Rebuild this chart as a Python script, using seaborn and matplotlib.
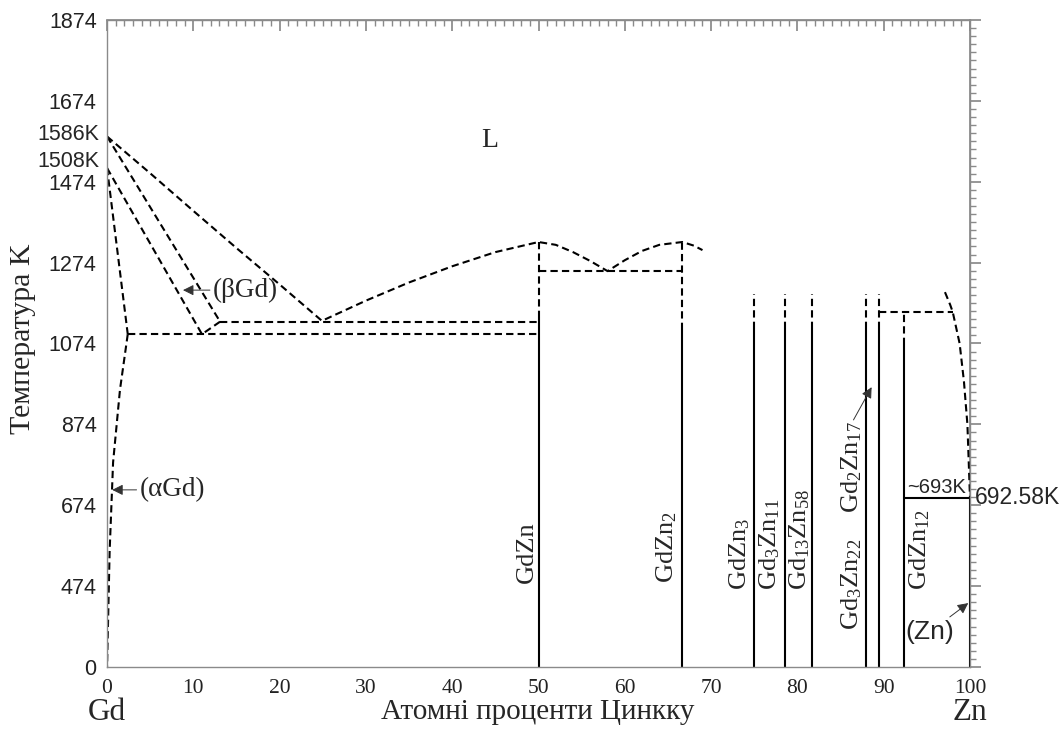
import numpy as np
import pandas as pd
import matplotlib.pyplot as plt
import seaborn as sns
from matplotlib.ticker import MultipleLocator, FixedLocator

# Theme first, fonts after (set_theme resets font.family)
sns.set_theme(style="white")
plt.rcParams['font.family'] = ['Liberation Serif', 'DejaVu Serif']
plt.rcParams['mathtext.fontset'] = 'custom'
plt.rcParams['mathtext.rm'] = 'Liberation Serif'
plt.rcParams['mathtext.it'] = 'Liberation Serif:italic'
SANS = ['Liberation Sans', 'DejaVu Sans']
GRAY = '#8a8a8a'

# ---- data (at.% Zn, temperature K) ----
liquidus_x = [0, 5, 10, 15, 20, 24.9, 30, 35, 40, 45, 50, 52, 54, 56, 58,
              60, 62, 64, 66.67, 68, 69]
liquidus_t = [1586, 1495, 1402, 1310, 1220, 1130, 1180, 1225, 1265, 1300, 1325,
              1318, 1300, 1278, 1253, 1280, 1303, 1318, 1325, 1316, 1305]

zn_liq_x = [97.1, 97.7, 98.0, 98.8, 99.3, 99.7, 100]
zn_liq_t = [1201, 1170, 1152, 1074, 980, 874, 692.58]

beta_sol_x = [0, 13.1]
beta_sol_t = [1586, 1128]
beta_solv_x = [0, 11.0, 13.1]
beta_solv_t = [1508, 1097, 1128]
gd_trans_x = [0, 2.4]
gd_trans_t = [1508, 1097]
alpha_x = [2.4, 1.5, 0.7, 0.3, 0]
alpha_t = [1097, 960, 780, 560, 274]

# horizontal invariant lines
iso_t = [1128, 1097, 1253, 1152, 692.58]
iso_x0 = [13.1, 2.4, 50, 89.47, 92.31]
iso_x1 = [50, 50, 66.67, 98.0, 100]
iso_dashed = [True, True, True, True, False]

# intermetallic compounds
comp_x = [50, 66.67, 75, 78.57, 81.69, 88, 89.47, 92.31]
comp_solid_top = [1138, 1107, 1110, 1110, 1110, 1110, 1110, 1070]
comp_dash_top = [1325, 1325, 1197, 1197, 1197, 1197, 1197, 1152]
comp_labels = ['GdZn', 'GdZn$_2$', 'GdZn$_3$', 'Gd$_3$Zn$_{11}$', 'Gd$_{13}$Zn$_{58}$',
               'Gd$_3$Zn$_{22}$', 'Gd$_2$Zn$_{17}$', 'GdZn$_{12}$']
label_x = [48.7, 64.9, 73.3, 76.8, 80.3, 86.3, 86.3, 94.2]
label_t = [482, 482, 464, 464, 464, 365, 655, 464]

zn_solid_top = 692.58
t_min, t_max = 274, 1874
y_ticks = [274, 474, 674, 874, 1074, 1274, 1474, 1674, 1874]
y_tick_labels = ['0', '474', '674', '874', '1074', '1274', '1474', '1674', '1874']

# ---- build line tables ----
dash_rows, solid_rows = [], []


def add(rows, name, xs, ts):
    for x, t in zip(xs, ts):
        rows.append({'seg': name, 'x': x, 'T': t})


add(dash_rows, 'liquidus', liquidus_x, liquidus_t)
add(dash_rows, 'zn_liq', zn_liq_x, zn_liq_t)
add(dash_rows, 'beta_sol', beta_sol_x, beta_sol_t)
add(dash_rows, 'beta_solv', beta_solv_x, beta_solv_t)
add(dash_rows, 'gd_trans', gd_trans_x, gd_trans_t)
add(dash_rows, 'alpha', alpha_x, alpha_t)
for i, (t, a, b, d) in enumerate(zip(iso_t, iso_x0, iso_x1, iso_dashed)):
    add(dash_rows if d else solid_rows, f'iso{i}', [a, b], [t, t])
for i, (x, s, d) in enumerate(zip(comp_x, comp_solid_top, comp_dash_top)):
    add(solid_rows, f'c{i}s', [x, x], [t_min, s])
    add(dash_rows, f'c{i}d', [x, x], [s, d])
add(solid_rows, 'zn', [100, 100], [t_min, zn_solid_top])

dash_df = pd.DataFrame(dash_rows)
solid_df = pd.DataFrame(solid_rows)

fig = plt.figure(figsize=(10.63, 7.31), dpi=100)
ax = fig.add_axes([0.1007, 0.0876, 0.8118, 0.885])

sns.lineplot(data=dash_df, x='x', y='T', units='seg', estimator=None, sort=False,
             color='black', lw=1.5, linestyle=(0, (3.5, 2)), ax=ax)
sns.lineplot(data=solid_df, x='x', y='T', units='seg', estimator=None, sort=False,
             color='black', lw=1.5, ax=ax)

# ---- axes ----
ax.set_xlim(0, 100)
ax.set_ylim(t_min, t_max)
ax.set_xlabel('')
ax.set_ylabel('')
ax.set_xticks(np.arange(0, 101, 10))
ax.set_xticklabels([str(v) for v in range(0, 101, 10)], fontsize=15.5)
ax.xaxis.set_minor_locator(MultipleLocator(1))
ax.set_yticks(y_ticks)
ax.set_yticklabels(y_tick_labels, fontfamily=SANS, fontsize=15.5)
ax.yaxis.set_minor_locator(FixedLocator(np.arange(274, 1875, 20)))
ax.tick_params(which='both', direction='inout', color=GRAY, width=1, labelcolor='#222')
ax.tick_params(which='major', length=9)
ax.tick_params(which='minor', length=5)
ax.tick_params(axis='y', pad=3)
ax.tick_params(axis='x', pad=4)
for sp in ax.spines.values():
    sp.set_color(GRAY)
    sp.set_linewidth(1)

top = ax.secondary_xaxis('top')
top.set_xticks(np.arange(0, 101, 10))
top.set_xticklabels([])
top.xaxis.set_minor_locator(MultipleLocator(1))
top.tick_params(which='both', direction='in', color=GRAY)
top.tick_params(which='major', length=8)
top.tick_params(which='minor', length=4)
top.spines['top'].set_color(GRAY)

right = ax.secondary_yaxis('right')
right.set_yticks(y_ticks)
right.set_yticklabels([])
right.yaxis.set_minor_locator(FixedLocator(np.arange(274, 1875, 20)))
right.tick_params(which='both', direction='out', color=GRAY)
right.tick_params(which='major', length=8)
right.tick_params(which='minor', length=4)
right.spines['right'].set_color(GRAY)

# axis titles
ax.text(0.4995, -0.07, 'Атомні проценти Цинкку', transform=ax.transAxes,
        ha='center', va='center', fontsize=21)
ax.text(0, -0.07, 'Gd', transform=ax.get_xaxis_transform(), ha='center', va='center', fontsize=22.5)
ax.text(100, -0.07, 'Zn', transform=ax.get_xaxis_transform(), ha='center', va='center', fontsize=22.5)
ax.text(-0.097, 0.508, 'Температура K', transform=ax.transAxes, rotation=90,
        ha='center', va='center', fontsize=21.5)

# temperature marks
yx = ax.get_yaxis_transform()
ax.text(-0.009, 1590, '1586K', transform=yx, ha='right', va='center', fontsize=15.5, family=SANS)
ax.text(-0.009, 1524, '1508K', transform=yx, ha='right', va='center', fontsize=15.5, family=SANS)
ax.text(1.006, 692.58, '692.58K', transform=yx, ha='left', va='center', fontsize=16.5, family=SANS)
ax.text(99.5, 704, '~693K', ha='right', va='baseline', fontsize=14.5, family=SANS)

# phase labels
ax.text(44.3, 1577, 'L', ha='center', va='center', fontsize=20)
arrow = dict(arrowstyle='-|>', color='#333', lw=0.7, mutation_scale=16, shrinkA=0, shrinkB=0)
ax.annotate('(βGd)', xy=(8.8, 1206), xytext=(12.3, 1206), ha='left', va='center',
            fontsize=19.5, arrowprops=arrow)
ax.annotate('(αGd)', xy=(0.6, 712), xytext=(3.8, 712), ha='left', va='center',
            fontsize=19.5, arrowprops=arrow)
ax.annotate('(Zn)', xy=(99.8, 432), xytext=(95.3, 360), ha='center', va='center',
            fontsize=19, family=SANS, arrowprops=arrow)
for lbl, x, t in zip(comp_labels, label_x, label_t):
    ax.text(x, t, lbl, rotation=90, ha='center', va='bottom', fontsize=19)
ax.annotate('', xy=(88.6, 966), xytext=(86.5, 885), arrowprops=arrow)

fig.savefig('out.png', dpi=100)
